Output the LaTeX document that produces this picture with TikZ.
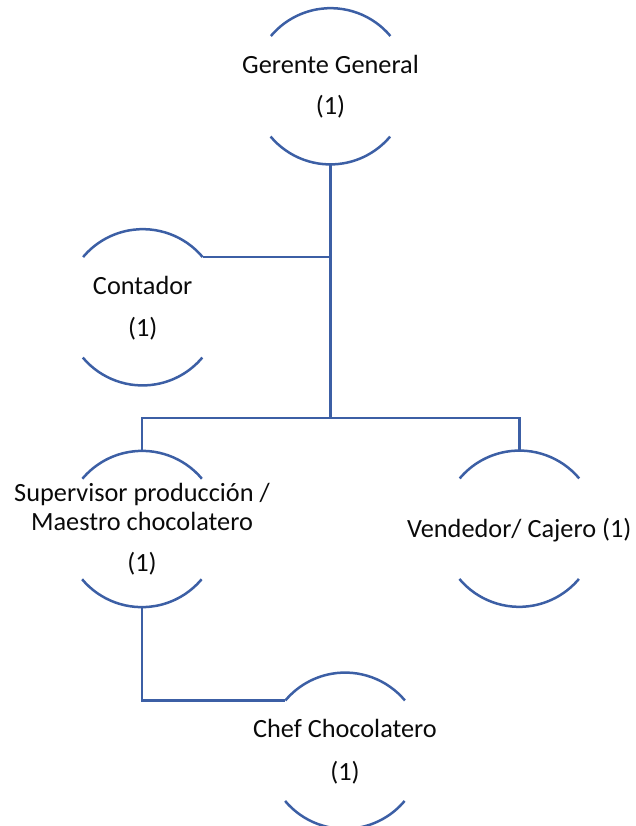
\documentclass[tikz,border=0pt]{standalone}
\usepackage{fontspec}
\setmainfont{Carlito}
\begin{document}
\begin{tikzpicture}[x=1pt,y=1pt,
  orgline/.style={draw={rgb,255:red,60;green,95;blue,165}, line width=2.5pt},
  holder/.style={circle, minimum size=156pt, inner sep=0pt, draw=none},
  lbl/.style={anchor=base, inner sep=0pt, font=\fontsize{26.3}{28.3}\selectfont, text={rgb,255:red,10;green,10;blue,10}}
]
\useasboundingbox (0,0) rectangle (636,-826);
% shape holders
\node[holder] (gg) at (330.5,-86.3) {};
\node[holder] (ct) at (142.7,-307.3) {};
\node[holder] (sp) at (142,-529) {};
\node[holder] (vc) at (519.3,-528.7) {};
\node[holder] (cf) at (345,-750.7) {};
% arcs
\foreach \n in {gg,ct,sp,vc,cf}{
  \draw[orgline] (\n.40) arc[start angle=40, end angle=140, radius=78pt];
  \draw[orgline] (\n.220) arc[start angle=220, end angle=320, radius=78pt];
}
% texts
\node[lbl] (gg1) at ([yshift=13pt]gg.center) {Gerente General};
\node[lbl] (gg2) at ([yshift=-28.5pt]gg.center) {(1)};
\node[lbl] (ct1) at ([yshift=13pt]ct.center) {Contador};
\node[lbl] (ct2) at ([yshift=-29pt]ct.center) {(1)};
\node[lbl] (sp1) at ([yshift=27.3pt]sp.center) {Supervisor producción /};
\node[lbl] (sp2) at ([yshift=-1pt]sp.center) {Maestro chocolatero};
\node[lbl] (sp3) at ([yshift=-42.7pt]sp.center) {(1)};
\node[lbl] (vc1) at ([yshift=-8.6pt]vc.center) {Vendedor/ Cajero (1)};
\node[lbl] (cf1) at ([yshift=13.4pt]cf.center) {Chef Chocolatero};
\node[lbl] (cf2) at ([yshift=-29.3pt]cf.center) {(1)};
% connectors
\coordinate (bus) at (330.5,-418);
\draw[orgline] (gg.south) -- (bus);
\draw[orgline] (ct.40) -- (ct.40 -| bus);
\draw[orgline] (sp.north) |- (bus) -| (vc.north);
\draw[orgline] (sp.south) |- (cf.140);
\end{tikzpicture}
\end{document}
